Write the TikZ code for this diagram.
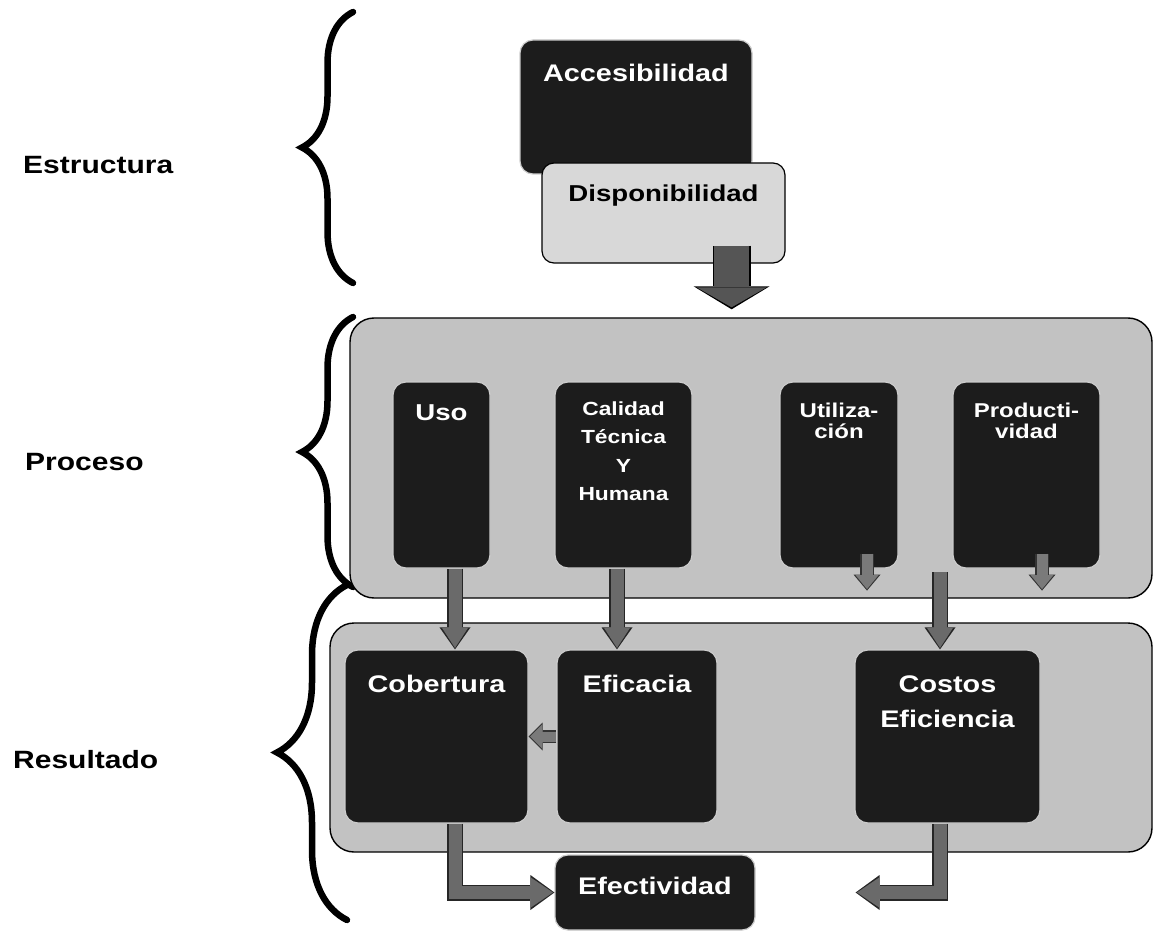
\documentclass[tikz,border=0pt]{standalone}
\usepackage{fontspec}
\setmainfont{Liberation Sans}[FakeStretch=1.2]
\usetikzlibrary{arrows.meta,decorations.pathreplacing,calc}

\definecolor{inkbox}{HTML}{1C1C1C}
\definecolor{panelgray}{HTML}{C2C2C2}
\definecolor{palebox}{HTML}{D8D8D8}
\definecolor{bigshaft}{HTML}{555555}
\definecolor{midshaft}{HTML}{6A6A6A}
\definecolor{smallshaft}{HTML}{7A7A7A}

\begin{document}
\begin{tikzpicture}[x=1pt,y=-1pt,
  darkbox/.style={draw=white!80!black, line width=1.2pt, fill=inkbox,
    rounded corners=13pt, inner sep=0pt},
  palepanel/.style={draw=black, line width=1.4pt, fill=panelgray,
    rounded corners=24pt, inner sep=0pt},
  boxlabel/.style={text=white, font=\bfseries\fontsize{24}{28}\selectfont,
    align=center, anchor=base, inner sep=0pt},
  sidelabel/.style={font=\bfseries\fontsize{25}{30}\selectfont,
    anchor=west, inner sep=0pt},
  bracemark/.style={decorate, decoration={brace, amplitude=#1},
    line width=6.5pt, line cap=round},
  bigarrow/.style={draw=bigshaft, line width=35pt, shorten >=2pt,
    -{Triangle[width=70pt,length=20pt,line width=0pt]},
    preaction={draw=black, line width=38pt, shorten >=0pt,
      -{Triangle[width=76pt,length=23pt,line width=0pt]}}},
  midarrow/.style={draw=midshaft, line width=13pt, shorten >=1.5pt,
    -{Triangle[width=26pt,length=20pt,line width=0pt]},
    preaction={draw=black!85, line width=16pt, shorten >=0pt,
      -{Triangle[width=31pt,length=22pt,line width=0pt]}}},
  bentarrow/.style={draw=midshaft, line width=13pt, shorten >=1.5pt,
    line join=miter,
    -{Triangle[width=30pt,length=22pt,line width=0pt]},
    preaction={draw=black!85, line width=16pt, shorten >=0pt, line join=miter,
      -{Triangle[width=35pt,length=24pt,line width=0pt]}}},
  smallarrow/.style={draw=smallshaft, line width=11pt, shorten >=1.5pt,
    -{Triangle[width=23pt,length=14pt,line width=0pt]},
    preaction={draw=black!80, line width=13.5pt, shorten >=0pt,
      -{Triangle[width=27pt,length=16pt,line width=0pt]}}},
  sidearrow/.style={draw=smallshaft, line width=10pt, shorten >=1.5pt,
    -{Triangle[width=24pt,length=12pt,line width=0pt]},
    preaction={draw=black!80, line width=12.5pt, shorten >=0pt,
      -{Triangle[width=28pt,length=14pt,line width=0pt]}}}
]
\useasboundingbox (0,0) rectangle (1154,941);

% side labels and braces
\node[sidelabel] (lblE) at (23,165) {Estructura};
\node[sidelabel] (lblP) at (25,462) {Proceso};
\node[sidelabel] (lblR) at (13,760) {Resultado};
\draw[bracemark=51] (353,283) -- (353,12);
\draw[bracemark=51] (353,587) -- (353,317);
\draw[bracemark=70] (347,920) -- (347,585);

% structure
\node[darkbox, minimum width=232pt, minimum height=134pt] (acc) at (636,107) {};
\node[boxlabel] at ($(acc.north)+(0,41.7)$) {Accesibilidad};
\node[draw=black, line width=1.2pt, fill=palebox, rounded corners=12pt,
  minimum width=243pt, minimum height=100pt, inner sep=0pt] (disp) at (663.5,213) {};
\node[boxlabel, text=black, font=\bfseries\fontsize{23}{28}\selectfont]
  at ($(disp.north)+(0,38.7)$) {Disponibilidad};

% process panel
\node[palepanel, minimum width=802pt, minimum height=280pt] (proc) at (751,458) {};
\node[darkbox, minimum width=97pt, minimum height=186pt] (uso) at (441.5,475) {};
\node[boxlabel, font=\bfseries\fontsize{23}{28}\selectfont]
  at ($(uso.north)+(0,39)$) {Uso};
\node[darkbox, minimum width=137pt, minimum height=186pt] (cal) at (623.5,475) {};
% multi-line labels sit on the baseline of their last line
\node[boxlabel, font=\bfseries\fontsize{19}{28.3}\selectfont]
  at ($(cal.north)+(0,118.9)$) {Calidad\\Técnica\\Y\\Humana};
\node[darkbox, minimum width=118pt, minimum height=186pt] (util) at (839,475) {};
\node[boxlabel, font=\bfseries\fontsize{20}{21}\selectfont]
  at ($(util.north)+(0,57)$) {Utiliza-\\ción};
\node[darkbox, minimum width=147pt, minimum height=186pt] (prod) at (1026.5,475) {};
\node[boxlabel, font=\bfseries\fontsize{20}{21}\selectfont]
  at ($(prod.north)+(0,57)$) {Producti-\\vidad};

% result panel
\node[palepanel, minimum width=822pt, minimum height=229pt] (res) at (741,737.5) {};
\node[darkbox, minimum width=183pt, minimum height=173pt] (cob) at (436.5,736.5) {};
\node[boxlabel] at ($(cob.north)+(0,42.7)$) {Cobertura};
\node[darkbox, minimum width=160pt, minimum height=173pt] (efic) at (637,736.5) {};
\node[boxlabel] at ($(efic.north)+(0,42.7)$) {Eficacia};
\node[darkbox, minimum width=185pt, minimum height=173pt] (cost) at (947.5,736.5) {};
\node[boxlabel, font=\bfseries\fontsize{24}{35.6}\selectfont]
  at ($(cost.north)+(0,78.3)$) {Costos\\Eficiencia};
\node[darkbox, minimum width=200pt, minimum height=75pt] (efec) at (655,892.5) {};
\node[boxlabel] at ($(efec.north)+(0,40)$) {Efectividad};

% connectors
\coordinate (bigtail) at ($(disp.south east)+(-54,-18)$);
\coordinate (bighead) at ($(bigtail |- proc.north)+(0,-8)$);
\draw[bigarrow] (bigtail) -- (bighead);

\draw[midarrow] ($(uso.south)+(13.5,0)$) -- ($(cob.north)+(18.5,0)$);
\draw[midarrow] ($(cal.south)+(-6.5,0)$) -- ($(efic.north)+(-20,0)$);

\draw[smallarrow] ($(util.south)+(28,-15)$) -- ($(util.south)+(28,22)$);
\draw[smallarrow] ($(prod.south)+(15.5,-15)$) -- ($(prod.south)+(15.5,22)$);

\coordinate (costtail) at ($(cost.north)+(-7.5,-77)$);
\draw[midarrow] (costtail) -- (cost.north -| costtail);

\draw[sidearrow] (efic.west) -- (cob.east);

\draw[bentarrow] ($(cob.south)+(18.5,0)$) |- (efec.west);
\coordinate (costhead) at ($(efec.east)+(100,0)$);
\draw[bentarrow] ($(cost.south)+(-7.5,0)$) |- (costhead);
\end{tikzpicture}
\end{document}
